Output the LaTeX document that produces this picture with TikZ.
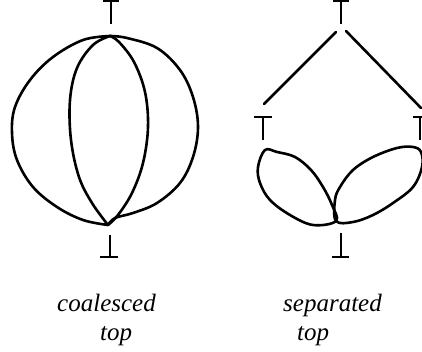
\documentclass[tikz,border=0pt]{standalone}
\usepackage{fontspec}
\setmainfont{Liberation Serif}
\tikzset{
  curve/.style={line width=2.6pt, line join=round, line cap=round},
  tbar/.style={line width=1.8pt},
  label/.style={font=\fontsize{25}{30}\selectfont\itshape, inner sep=0pt, anchor=base west}
}
\begin{document}
\begin{tikzpicture}[x=1pt,y=-1pt]
\useasboundingbox (0,0) rectangle (422,352);
\clip (0,0) rectangle (422,352);
% ---------- left: coalesced top ----------
\coordinate (Ltop) at (110,36);
\coordinate (Lbot) at (108,225);
\draw[tbar] (103,1) -- (119,1) (111,1) -- (111,24);
\draw[tbar] (110,235) -- (110,256) (100,257) -- (118,257);
% outer circle
\draw[curve] plot[smooth, tension=0.6] coordinates {(Ltop) (127,38) (157,48) (180,70) (193,97) (198,127) (193,157) (180,183) (157,203) (133,213) (115,218) (Lbot)};
\draw[curve] plot[smooth, tension=0.6] coordinates {(Ltop) (83,40) (53,57) (30,80) (15,107) (12,133) (17,160) (33,187) (57,207) (83,220) (Lbot)};
% inner lens
\draw[curve] plot[smooth, tension=0.6] coordinates {(Ltop) (93,45) (77,68) (70,100) (71,140) (79,177) (92,203) (Lbot)};
\draw[curve] plot[smooth, tension=0.6] coordinates {(Ltop) (119,42) (134,62) (145,92) (148,127) (143,163) (132,193) (118,215) (Lbot)};
% ---------- right: separated top ----------
\draw[tbar] (333,1) -- (349,1) (341,1) -- (341,24);
\coordinate (Ra) at (336,32);
\coordinate (Rb) at (264,104);
\coordinate (Rc) at (346,31);
\coordinate (Rd) at (421,108);
\draw[curve] (Ra) -- (Rb);
\draw[curve] (Rc) -- (Rd);
\draw[tbar] (254,117) -- (272,117) (263,117) -- (263,140);
\draw[tbar] (413,117) -- (424,117) (420,117) -- (420,140);
\coordinate (Rm) at (336,221);
% left loop
\draw[curve] plot[smooth cycle, tension=0.6] coordinates {(265,150) (258,167) (260,183) (270,200) (290,215) (313,225) (Rm) (332,205) (323,187) (311,170) (295,157) (277,152)};
% right loop
\draw[curve] plot[smooth cycle, tension=0.6] coordinates {(Rm) (335,200) (340,187) (353,170) (373,157) (397,148) (413,147) (421,152) (422,167) (413,187) (393,203) (373,215) (353,222)};
\draw[tbar] (341,233) -- (341,256) (332,257) -- (349,257);
% ---------- labels ----------
\node[label] (c1) at (57,311) {coalesced};
\node[label] (c2) at (100,340) {top};
\node[label] (s1) at (283,311) {separated};
\node[label] (s2) at (297,340) {top};
\end{tikzpicture}
\end{document}
